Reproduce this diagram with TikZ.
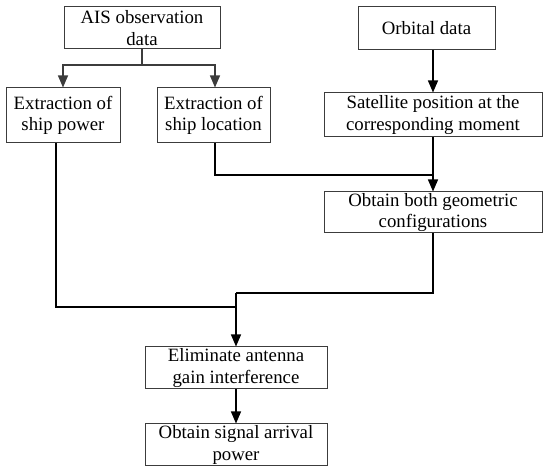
\documentclass[tikz,border=0pt]{standalone}
\usepackage{fontspec}
\setmainfont{Liberation Serif}
\usetikzlibrary{arrows.meta}
\definecolor{edge}{RGB}{60,60,60}
\tikzset{
  stepbox/.style={draw=edge, line width=1pt, align=center, inner sep=1pt,
    font=\fontsize{18.8}{21.5}\selectfont},
  flow/.style={line width=1.1pt, -{Triangle[length=12pt,width=10pt]}},
  link/.style={line width=1.1pt}
}
\begin{document}
\begin{tikzpicture}[x=1pt,y=-1pt]
\useasboundingbox (0,0) rectangle (550,473);
% left column
\node[stepbox, minimum width=156, minimum height=42] (ais) at (142,28) {AIS observation\\data};
\node[stepbox, minimum width=114, minimum height=55] (pow) at (63,115.5) {Extraction of\\ship power};
\node[stepbox, minimum width=113, minimum height=55] (loc) at (213.5,115.5) {Extraction of\\ship location};
% right column
\node[stepbox, minimum width=137, minimum height=43] (orb) at (426.5,28.5) {Orbital data};
\node[stepbox, minimum width=218, minimum height=44] (sat) at (433,115) {Satellite position at the\\corresponding moment};
\node[stepbox, minimum width=218, minimum height=41] (geo) at (433,212.5) {Obtain both geometric\\configurations};
% bottom
\node[stepbox, minimum width=182, minimum height=42] (elim) at (236,368) {Eliminate antenna\\gain interference};
\node[stepbox, minimum width=182, minimum height=42] (sig) at (236,445) {Obtain signal arrival\\power};
% joins
\coordinate (fork) at (142,65);
\coordinate (j1) at (433,175);
\coordinate (j2) at (236,293);
\coordinate (j3) at (236,307);
% connectors
\draw[link, edge] (ais.south) -- (fork);
\draw[flow, edge] (fork) -| (pow.north);
\draw[flow, edge] (fork) -| ([xshift=1.5]loc.north);
\draw[flow] (orb.south -| sat.north) -- (sat.north);
\draw[flow] (sat.south) -- (geo.north);
\draw[link] ([xshift=1.5]loc.south) |- (j1);
\draw[link] (geo.south) |- (j2);
\draw[link] ([xshift=-7]pow.south) |- (j3);
\draw[flow] (j2) -- (elim.north);
\draw[flow] (elim.south) -- (sig.north);
\end{tikzpicture}
\end{document}
